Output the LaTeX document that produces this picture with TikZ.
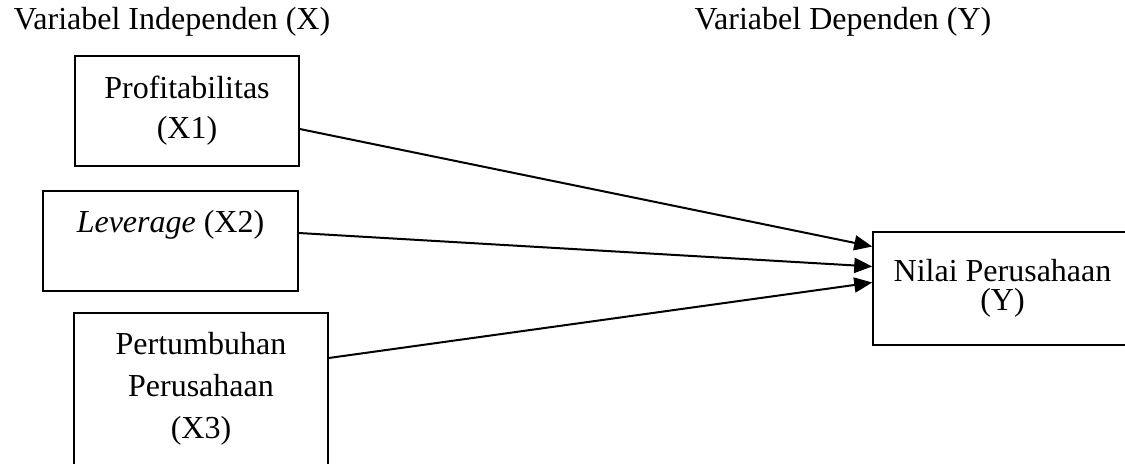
\documentclass[tikz,border=0pt]{standalone}
\usepackage{fontspec}
\setmainfont{Liberation Serif}
\usetikzlibrary{arrows.meta,positioning}

\begin{document}
\begin{tikzpicture}[x=0.5pt,y=-0.5pt,
    box/.style={draw, line width=0.75pt, inner sep=0pt, align=center},
    link/.style={line width=1pt, -{Triangle[length=9pt,width=7.5pt]}}]
    \useasboundingbox (0,0) rectangle (1125,464);
    \fontsize{16}{20}\selectfont

    \node (indep) at (172,22) {Variabel Independen (X)};
    \node (dep) at (843,22) {Variabel Dependen (Y)};

    \node[box, minimum width=112pt, minimum height=55pt, font=\fontsize{16}{20}\selectfont] (x1) at (187,111) {Profitabilitas\\(X1)};
    \node[box, minimum width=127.5pt, minimum height=50pt, font=\fontsize{16}{20}\selectfont] (x2) at (170.5,241) {\textit{Leverage} (X2)\\\mbox{}};
    \node[box, minimum width=127pt, minimum height=93pt, font=\fontsize{16}{21}\selectfont] (x3) at (201,406) {Pertumbuhan\\Perusahaan\\(X3)\\\mbox{}};

    \node[box, minimum width=129.5pt, minimum height=56.5pt, font=\fontsize{16}{14.5}\selectfont] (y) at (1002.5,288.5) {Nilai Perusahaan\\(Y)};

    \draw[link] ([yshift=-9pt]x1.east) -- ([yshift=21pt]y.west);
    \draw[link] ([yshift=4pt]x2.east) -- ([yshift=11pt]y.west);
    \draw[link] ([yshift=24pt]x3.east) -- ([yshift=3pt]y.west);
\end{tikzpicture}
\end{document}
